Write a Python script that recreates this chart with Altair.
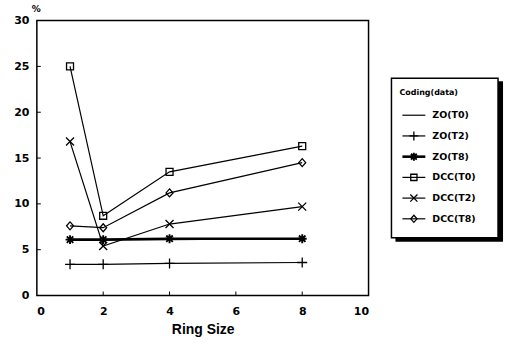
import altair as alt
import pandas as pd

# Ring size on the x axis and one value list per coding scheme (percent)
ring_size = [1, 2, 4, 8]
series_names = ["ZO(T0)", "ZO(T2)", "ZO(T8)", "DCC(T0)", "DCC(T2)", "DCC(T8)"]
zo_t0 = [6.1, 6.1, 6.1, 6.2]
zo_t2 = [3.4, 3.4, 3.5, 3.6]
zo_t8 = [6.1, 6.1, 6.2, 6.2]
dcc_t0 = [25.0, 8.7, 13.5, 16.3]
dcc_t2 = [16.8, 5.4, 7.8, 9.7]
dcc_t8 = [7.6, 7.4, 11.2, 14.5]

x_ticks = [0, 2, 4, 6, 8, 10]
y_ticks = [0, 5, 10, 15, 20, 25, 30]

series_values = [zo_t0, zo_t2, zo_t8, dcc_t0, dcc_t2, dcc_t8]
rows = []
for name, vals in zip(series_names, series_values):
    for rs, v in zip(ring_size, vals):
        rows.append({"series": name, "ring": rs, "pct": v})
df = pd.DataFrame(rows)
marked = df[df["series"] != "ZO(T0)"]

FONT = "Liberation Sans"
LEG_FONT = "DejaVu Sans"

# marker glyphs as unit paths: plus, asterisk, open square, x, open diamond
PLUS = "M-1,0L1,0M0,-1L0,1"
STAR = "M-0.9,0L0.9,0M0,-0.9L0,0.9M-0.65,-0.65L0.65,0.65M-0.65,0.65L0.65,-0.65"
SQUARE = "M-0.7,-0.7L0.7,-0.7L0.7,0.7L-0.7,0.7Z"
XMARK = "M-0.8,-0.8L0.8,0.8M-0.8,0.8L0.8,-0.8"
DIAMOND = "M0,-0.8L0.7,0L0,0.8L-0.7,0Z"
marker_names = series_names[1:]
shape_scale = alt.Scale(domain=marker_names,
                        range=[PLUS, STAR, SQUARE, XMARK, DIAMOND])

# the ZO(T8) trace is drawn heavier
heavy = alt.datum.series == "ZO(T8)"
line_w = alt.condition(heavy, alt.value(2.6), alt.value(1.2))
mark_w = alt.condition(heavy, alt.value(1.9), alt.value(1.3))

xs = alt.Scale(domain=[0, 10], nice=False)
ys = alt.Scale(domain=[0, 30], nice=False)

x_axis = alt.Axis(values=x_ticks, ticks=False, grid=False, domain=False,
                  labelFont=LEG_FONT, labelFontWeight=700, labelFontSize=11,
                  labelColor="#000000", labelOpacity=1,
                  labelPadding=10, titlePadding=6, titleFontSize=14)
y_axis = alt.Axis(values=y_ticks, ticks=False, grid=False, domain=False,
                  labelFont=LEG_FONT, labelFontWeight=700, labelFontSize=11,
                  labelColor="#000000", labelOpacity=1,
                  labelPadding=8, titleFont=LEG_FONT, titleFontSize=9,
                  titleAngle=0, titleAlign="center",
                  titleBaseline="bottom", titleX=-1, titleY=-7)

X = alt.X("ring:Q", scale=xs, title="Ring Size", axis=x_axis)
Y = alt.Y("pct:Q", scale=ys, title="%", axis=y_axis)

lines = alt.Chart(df).mark_line(color="black").encode(
    x=X, y=Y, detail="series:N", strokeWidth=line_w)

points = alt.Chart(marked).mark_point(color="black", filled=False, opacity=1,
                                      size=100).encode(
    x=X, y=Y,
    shape=alt.Shape("series:N", scale=shape_scale, legend=None),
    strokeWidth=mark_w,
)

# inward tick marks along the left and bottom edges
tick_df = pd.DataFrame({"pct": y_ticks[1:-1]})
xtick_df = pd.DataFrame({"ring": x_ticks[1:-1]})
yticks = alt.Chart(tick_df).mark_rule(color="black", strokeWidth=1).encode(
    y=Y, x=alt.value(0), x2=alt.value(4))
xticks = alt.Chart(xtick_df).mark_rule(color="black", strokeWidth=1).encode(
    x=X, y=alt.value(276), y2=alt.value(272))

main = alt.layer(lines, points, yticks, xticks).properties(
    width=333, height=276,
    view=alt.ViewBackground(stroke="black", strokeWidth=1.5))

# legend panel
LW, LH = 107, 218
one = pd.DataFrame({"k": [0]})
shadow = alt.Chart(one).mark_rect(color="black").encode(
    x=alt.value(4), x2=alt.value(LW + 5), y=alt.value(61), y2=alt.value(LH + 4))
box = alt.Chart(one).mark_rect(fill="white", stroke="black", strokeWidth=1.5).encode(
    x=alt.value(0), x2=alt.value(LW), y=alt.value(58), y2=alt.value(LH))
leg_title = alt.Chart(one).mark_text(
    align="left", baseline="middle", font=LEG_FONT, fontWeight="bold", fontSize=8,
    color="black").encode(x=alt.value(8), y=alt.value(73), text=alt.value("Coding(data)"))

entries = pd.DataFrame({"series": series_names})
ly = alt.Y("series:N", scale=alt.Scale(type="point", domain=series_names,
                                       range=[95, 199], padding=0),
           axis=None)
leg_lines = alt.Chart(entries).mark_rule(color="black").encode(
    y=ly, x=alt.value(11), x2=alt.value(34), strokeWidth=line_w)
leg_points = alt.Chart(entries[entries["series"] != "ZO(T0)"]).mark_point(
    color="black", filled=False, opacity=1, size=80).encode(
    y=ly, x=alt.value(22.5),
    shape=alt.Shape("series:N", scale=shape_scale, legend=None),
    strokeWidth=mark_w)
leg_text = alt.Chart(entries).mark_text(
    align="left", baseline="middle", font=LEG_FONT, fontWeight="bold", fontSize=9.5,
    color="black").encode(y=ly, x=alt.value(41), text="series:N")

legend = alt.layer(shadow, box, leg_title, leg_lines, leg_points, leg_text).properties(
    width=LW, height=LH, view=alt.ViewBackground(strokeOpacity=0))

chart = alt.hconcat(main, legend, spacing=21).properties(
    background="white",
    padding={"left": 12, "top": 3, "right": 5, "bottom": 5},
).configure_axis(
    titleFont=FONT, titleFontWeight="bold", titleColor="black",
)

chart.save("out.html", embed_options={"renderer": "svg", "actions": False})
